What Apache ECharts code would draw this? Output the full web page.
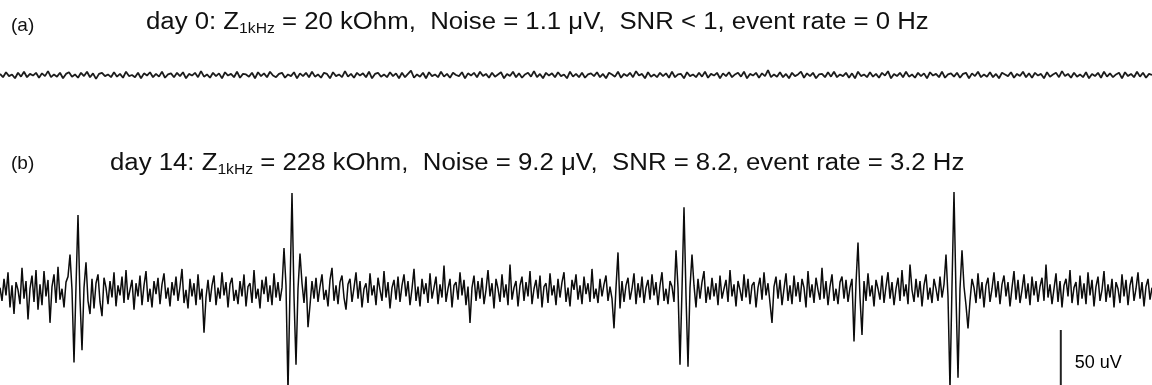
<!DOCTYPE html>
<html>
<head>
<meta charset="utf-8">
<script src="https://cdn.jsdelivr.net/npm/echarts@6/dist/echarts.min.js"></script>
<style>
  html, body { margin: 0; padding: 0; background: #fff; }
  #chart { width: 1152px; height: 385px; }
</style>
</head>
<body>
<div id="chart"></div>
<script>
// Recording window shared by both traces (ms)
const WINDOW_MS = 1440;

// Panel titles
const labelA = '(a)';
const labelB = '(b)';
const titleA = ['day 0: Z', '1kHz', ' = 20 kOhm,  Noise = 1.1 \u03bcV,  SNR < 1, event rate = 0 Hz'];
const titleB = ['day 14: Z', '1kHz', ' = 228 kOhm,  Noise = 9.2 \u03bcV,  SNR = 8.2, event rate = 3.2 Hz'];

// (a) day 0 trace, µV, sampled every 3.75 ms
const traceDay0 = [
  1, -2, 2.5, -1, 0.5, -3, 2, -1.5, 3, -2, 1, -0.5, 2, -2.5, 1.5, -1, 3.5, -2, 0.5, -1.5,
  2, -3, 1, 2.5, -1.5, 0.5, -2.5, 2, -1, 3, -2, 1.5, -3.5, 1, 2, -1, 0.5, -2, 2.5, -1.5,
  1, -2.5, 3, -1, 0, -2, 2, -3, 1.5, -0.5, 2.5, -2, 1, -1.5, 3, -2.5, 0.5, 1.5, -2, 2,
  -1, 2.5, -3, 1, -0.5, 2, -2, 3.5, -1.5, 0.5, -2.5, 2, -1, 1.5, -3, 2.5, -0.5, 1, -2, 3,
  -2.5, 1, 0.5, -1.5, 2, -3, 2.5, -1, 1.5, -2, 3, -0.5, -2, 1, 2, -2.5, 0.5, -1, 2.5, -3,
  1.5, -1, 2, -2, 3, -1.5, 0.5, -2.5, 2, 1, -3, 2.5, -1, 0.5, -2, 3.5, -1.5, 1, -2.5, 2,
  -0.5, 1.5, -2, 3, -3, 1, 2, -1.5, 0.5, -2, 2.5, -1, 1.5, -3, 2, -2, 1, 4, -2.5, 0.5,
  -1.5, 2, -3, 2.5, -1, 0.5, -2, 3, -1.5, 1, -2.5, 2, 0, -1, 2.5, -3, 1.5, -0.5, 2, -2,
  3, -1, 1, -2.5, 2, -1.5, 0.5, 2.5, -3, 1, -1, 3, -2, 1.5, -2.5, 0.5, 2, -1.5, 3.5, -2,
  1, -3, 2, -0.5, 1.5, -2, 2.5, -1, 0.5, -3, 3, -1.5, 1, -2, 2, -2.5, 0.5, 1.5, -1, 2.5,
  -2, 1, -3, 2, 0.5, -1.5, 3, -2.5, 1, -1, 2, -2, 3.5, -0.5, 1, -3, 2.5, -1.5, 0.5, -2,
  2, -1, 1.5, -2.5, 3, -2, 0.5, 1, -3, 2.5, -1, 0.5, -2, 2, -1.5, 3, -2.5, 1, -0.5, 2,
  -3, 1.5, -1, 2.5, -2, 0.5, 2, -1.5, 3, -3, 1, -0.5, 2, -2.5, 1.5, -1, 4.5, -2, 0.5, -1.5,
  2.5, -2, 1, -3, 2, -1, 0.5, 3, -2.5, 1.5, -1, 2, -3, 0.5, 1, -2, 2.5, -1.5, 3, -2,
  0.5, -1, 2, -2.5, 1.5, -3, 3, -1, 0.5, -2, 2.5, -1.5, 1, -2.5, 2, -0.5, 3.5, -3, 1, -1,
  2, -2, 3, -1.5, 0.5, -2.5, 2, -1, 1.5, -3, 2.5, -0.5, 1, -2, 3, -2.5, 0.5, 1.5, -1.5, 2,
  -2.5, 1, 2, -3, 1.5, -1, 3, -2, 0.5, -1.5, 2.5, -2, 1, -3, 2, 0.5, -1, 2.5, -2.5, 1,
  -1, 3, -2, 1.5, -2.5, 2, -0.5, 1, -3, 2.5, -1.5, 0.5, 2, -2, 3.5, -1, 1, -2.5, 2, -1.5,
  0.5, -2, 2.5, -3, 1, -1, 2, -2.5, 3, -1.5, 1.5, -2, 0.5, 2, -3, 2.5, -1, 1, -2, 3,
  -1.5, 2, -2.5, 1, 0
];

// (b) day 14 trace, µV, sampled every 2.5 ms
const traceDay14 = [
  4, -8, 12, -3, 18, -14, 6, -20, 9, 2, -11, 22, -6, 10, -25, 3, 15, -9, 20, -16,
  7, -12, 19, -4, 11, -28, 5, 16, -10, 23, -7, 3, -14, 9, 14, 34, 2, -64, 5, 70,
  -6, -53, 4, 27, -8, -20, 12, -15, 8, 16, -9, -22, 13, 4, -11, 10, -5, 18, -13, 6,
  -3, 14, -10, 20, -7, 2, 11, -16, 8, -4, 15, -12, 6, 19, -9, 3, -14, 10, -2, 13,
  -11, 7, 17, -6, 4, -13, 9, -3, 14, -8, 5, 21, -10, 2, -15, 12, -4, 8, -12, 16,
  -7, 3, -37, -5, 11, -9, 6, 15, -12, 4, -6, 18, -3, 9, -14, 7, 13, -8, 2, -11,
  10, -4, 16, -13, 5, 8, -10, 20, -6, 3, -15, 11, -2, 14, -9, 6, -12, 17, -5, 9,
  -8, 4, 40, 6, -90, 2, 90, -4, -66, 3, 35, 8, -10, 14, -32, -12, 10, -6, 13, -9,
  5, 16, -7, 2, -13, 11, 22, -8, 6, -11, 9, 15, -5, -16, 7, 12, -9, 4, 18, -6,
  10, -14, 3, 8, -10, 17, -3, 6, -12, 13, 2, -8, 19, -5, 9, -15, 4, 11, -7, 14,
  -9, 6, 16, -4, 10, -12, 3, 21, -8, 5, -13, 12, -2, 8, -10, 17, -6, 4, 14, -11,
  7, -5, 24, -9, 3, 12, -14, 6, 9, -7, 18, -3, 11, -12, 5, -28, 4, 15, -8, 10,
  -6, 13, -11, 2, 20, -4, 8, -15, 12, 3, -9, 16, -5, 7, -12, 25, -7, 4, 10, -13,
  6, 14, -8, 9, -4, 19, -11, 3, 11, -6, 15, -14, 5, 8, -10, 17, -3, 6, -12, 12,
  -5, 9, 18, -9, 4, -13, 11, 2, 16, -7, 6, -11, 14, -2, 8, -9, 21, -6, 3, -10,
  12, -4, 7, 15, -8, 5, -6, -33, 4, 36, -15, 10, -9, 6, 13, -7, 3, 17, -11, 8,
  -5, 14, -10, 4, 11, -7, 16, -3, 9, -12, 6, 18, -8, 3, -11, 10, 5, -9, 38, 4,
  -66, 2, 77, -3, -68, 4, 34, 6, -14, 12, -6, 9, 19, -10, 5, -7, 13, -4, 8, -12,
  15, -6, 3, 11, -9, 20, -4, 7, -13, 10, 2, -8, 16, -5, 12, -11, 6, 9, -14, 4,
  13, -7, 18, -3, 8, -10, -28, 5, 14, -6, 11, -12, 3, 17, -8, 6, -11, 15, -4, 9,
  -9, 12, 4, -14, 19, -5, 7, -10, 13, 2, -7, 22, -6, 10, -12, 5, 16, -8, 3, -11,
  9, 14, -6, 11, -9, 4, 12, -45, 8, 45, -5, -39, 10, -8, 17, -4, 6, -13, 11, 3,
  -7, 15, -10, 5, 18, -6, 9, -12, 3, 13, -8, 20, -4, 7, -11, 25, 2, -9, 12, -5,
  10, -13, 6, 16, -7, 4, -10, 12, 3, -8, 14, -5, 7, 34, -4, -88, 6, 91, -2, -78,
  3, 38, 5, -12, -33, -8, 12, 4, -10, 17, -6, 9, -14, 6, 13, -9, 3, 18, -5, 10,
  -11, 7, 15, -4, 9, -13, 4, 19, -7, 11, -10, 2, 16, -6, 8, -12, 14, -3, 10, -9,
  5, 13, -8, 25, -5, 7, -11, 3, 17, -9, 10, -14, 6, 12, -4, 20, -10, 4, 9, -12,
  15, -6, 8, -11, 18, -3, 11, -13, 5, 14, -8, 2, 19, -9, 7, -5, 12, -14, 9, 3,
  -10, 16, -4, 11, -12, 6, 14, -8, 3, 18, -6, 9, -13, 5, 12, -7, 4
];

// Amplitude scale bar
const scaleBarUV = 50;
const scaleBarTimeMs = 1326;
const scaleBarTopUV = -34.5;
const scaleBarLabel = '50 uV';

function toSeries(values) {
  const dt = WINDOW_MS / (values.length - 1);
  return values.map((v, i) => [i * dt, v]);
}

const FONT = "'Liberation Sans', Arial, Helvetica, sans-serif";
const INK = '#111111';

function titleText(parts, x, y) {
  return {
    type: 'text', x: x, y: y, scaleX: 1.12, silent: true,
    style: {
      text: parts[0] + '{sub|' + parts[1] + '}' + parts[2],
      fontFamily: FONT, fontSize: 23, lineHeight: 26,
      fill: INK, verticalAlign: 'top',
      rich: {
        sub: { fontFamily: FONT, fontSize: 14, lineHeight: 10, verticalAlign: 'bottom', fill: INK }
      }
    }
  };
}

function panelLabel(text, x, y) {
  return {
    type: 'text', x: x, y: y, silent: true,
    style: { text: text, fontFamily: FONT, fontSize: 19, fill: INK, verticalAlign: 'top' }
  };
}

const chart = echarts.init(document.getElementById('chart'), null, { renderer: 'canvas' });

chart.setOption({
  animation: false,
  backgroundColor: '#ffffff',
  grid: [
    { left: 0, right: 0, top: 42, height: 66, outerBoundsMode: 'none' },
    { left: 0, right: 0, top: 182, height: 203, outerBoundsMode: 'none' }
  ],
  xAxis: [
    { type: 'value', gridIndex: 0, min: 0, max: WINDOW_MS, show: false },
    { type: 'value', gridIndex: 1, min: 0, max: WINDOW_MS, show: false }
  ],
  yAxis: [
    { type: 'value', gridIndex: 0, min: -30, max: 30, show: false },
    { type: 'value', gridIndex: 1, min: -84.5, max: 100, show: false }
  ],
  graphic: [
    panelLabel(labelA, 11, 16),
    titleText(titleA, 146, 10),
    panelLabel(labelB, 11, 154),
    titleText(titleB, 110, 151)
  ],
  series: [
    {
      name: 'day 0', type: 'line', xAxisIndex: 0, yAxisIndex: 0,
      data: toSeries(traceDay0), symbol: 'none', silent: true,
      lineStyle: { color: '#1c1c1c', width: 1.8 }
    },
    {
      name: 'day 14', type: 'line', xAxisIndex: 1, yAxisIndex: 1,
      data: toSeries(traceDay14), symbol: 'none', silent: true,
      lineStyle: { color: '#0c0c0c', width: 1.5 }
    },
    {
      name: 'scale', type: 'line', xAxisIndex: 1, yAxisIndex: 1,
      data: [[scaleBarTimeMs, scaleBarTopUV], [scaleBarTimeMs, scaleBarTopUV - scaleBarUV]],
      symbol: 'none', silent: true, clip: false,
      lineStyle: { color: '#222', width: 2 }
    },
    {
      name: 'scale label', type: 'scatter', xAxisIndex: 1, yAxisIndex: 1,
      data: [[scaleBarTimeMs, scaleBarTopUV - scaleBarUV * 0.6]],
      symbolSize: 0, silent: true,
      itemStyle: { opacity: 1 },
      label: {
        show: true, position: 'right', distance: 14,
        formatter: scaleBarLabel, opacity: 1,
        fontFamily: FONT, fontSize: 18, color: '#000000'
      }
    }
  ]
});
</script>
</body>
</html>
